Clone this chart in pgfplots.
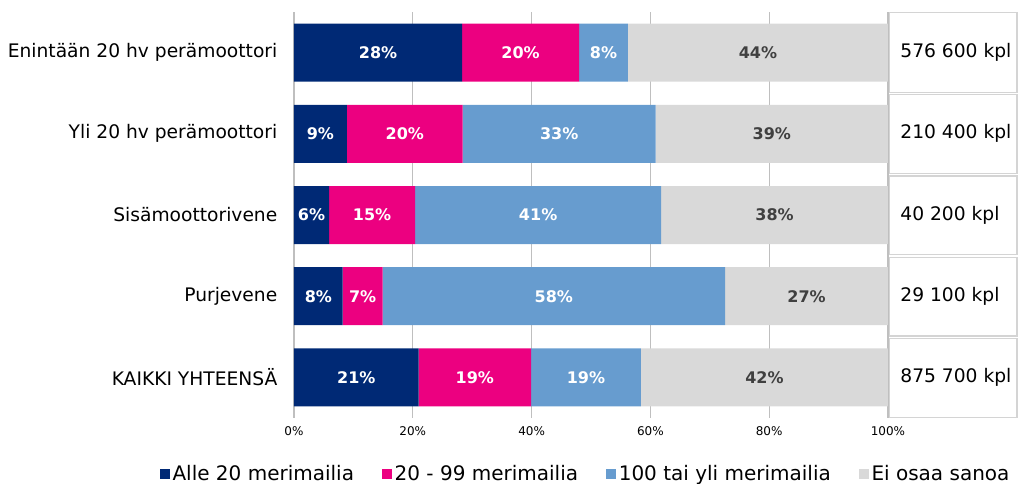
\documentclass[border=0pt]{standalone}
\usepackage{pgfplots}
\pgfplotsset{compat=1.18}
\usepackage{pgfplotstable}
\usepackage{fontspec}
\setmainfont{DejaVu Sans}
\definecolor{cNavy}{RGB}{0,41,117}
\definecolor{cPink}{RGB}{236,0,128}
\definecolor{cBlue}{RGB}{103,156,207}
\definecolor{cGray}{RGB}{217,217,217}
\definecolor{cGrid}{RGB}{191,191,191}
\definecolor{cBox}{RGB}{212,212,212}
\definecolor{cLab}{RGB}{64,64,64}

\pgfplotstableread{
y a b c d
0 28.3 19.7 8.2 43.8
1 8.9 19.5 32.5 39.1
2 5.9 14.5 41.4 38.2
3 8.2 6.7 57.7 27.4
4 21.0 18.9 18.5 41.6
}\shares

\pgfplotstableread{
cx y lab
14.15 0 28
38.15 0 20
52.1 0 8
4.45 1 9
18.65 1 20
44.65 1 33
2.95 2 6
13.15 2 15
41.1 2 41
4.1 3 8
11.55 3 7
43.75 3 58
10.5 4 21
30.45 4 19
49.15 4 19
}\labwhite

\pgfplotstableread{
cx y lab
78.1 0 44
80.45 1 39
80.9 2 38
86.3 3 27
79.2 4 42
}\labdark

\pgfplotsset{myaxis/.style={
  scale only axis, width=445.5pt, height=304.5pt,
  xmin=0, xmax=100, ymin=-0.5, ymax=4.5, y dir=reverse,
  at={(0,0)}, anchor=south west}}

\begin{document}
\begin{tikzpicture}
\begin{axis}[myaxis,
  xbar stacked, bar width=43.5pt,
  xtick={0,20,...,100},
  /pgf/number format/assume math mode=true,
  xticklabel={\pgfmathprintnumber{\tick}\%},
  xticklabel style={font=\fontsize{9}{11}\selectfont, yshift=-3pt},
  ytick={0,...,4},
  yticklabels={Enintään 20 hv perämoottori, Yli 20 hv perämoottori, Sisämoottorivene, Purjevene, KAIKKI YHTEENSÄ},
  yticklabel style={font=\fontsize{14}{16}\selectfont, xshift=-9pt},
  major tick length=0pt,
  xmajorgrids, grid style={cGrid, line width=0.9pt},
  axis line style={draw=none},
  legend columns=4,
  legend cell align=left,
  legend style={at={(0.4916,-0.138)}, anchor=center, draw=none, fill=none,
    font=\fontsize{15}{17}\selectfont,
    /tikz/every even column/.append style={column sep=19pt}},
  legend image code/.code={\fill[#1] (0pt,-3.75pt) rectangle (7.5pt,3.75pt);},
]
\addplot[fill=cNavy, draw=none] table[x=a, y=y]{\shares};
\addlegendentry{Alle 20 merimailia}
\addplot[fill=cPink, draw=none] table[x=b, y=y]{\shares};
\addlegendentry{20 - 99 merimailia}
\addplot[fill=cBlue, draw=none] table[x=c, y=y]{\shares};
\addlegendentry{100 tai yli merimailia}
\addplot[fill=cGray, draw=none] table[x=d, y=y]{\shares};
\addlegendentry{Ei osaa sanoa}
\end{axis}
\begin{axis}[myaxis, hide axis, clip=false]
\addplot[only marks, mark=none, nodes near coords={\pgfplotspointmeta\%},
  point meta=explicit symbolic,
  nodes near coords style={anchor=center, text=white, font=\bfseries\fontsize{12}{14}\selectfont}]
  table[x=cx, y=y, meta=lab]{\labwhite};
\addplot[only marks, mark=none, nodes near coords={\pgfplotspointmeta\%},
  point meta=explicit symbolic,
  nodes near coords style={anchor=center, text=cLab, font=\bfseries\fontsize{12}{14}\selectfont}]
  table[x=cx, y=y, meta=lab]{\labdark};
\draw[cBox, line width=1pt] (axis cs:100.3,-0.49) rectangle (axis cs:121.7,0.49);
\draw[cBox, line width=1pt] (axis cs:100.3,0.52) rectangle (axis cs:121.7,1.49);
\draw[cBox, line width=1pt] (axis cs:100.3,1.52) rectangle (axis cs:121.7,2.49);
\draw[cBox, line width=1pt] (axis cs:100.3,2.52) rectangle (axis cs:121.7,3.49);
\draw[cBox, line width=1pt] (axis cs:100.3,3.52) rectangle (axis cs:121.7,4.49);
\node[anchor=west, font=\fontsize{14}{16}\selectfont] at (axis cs:101.3,0) {576 600 kpl};
\node[anchor=west, font=\fontsize{14}{16}\selectfont] at (axis cs:101.3,1) {210 400 kpl};
\node[anchor=west, font=\fontsize{14}{16}\selectfont] at (axis cs:101.3,2) {40 200 kpl};
\node[anchor=west, font=\fontsize{14}{16}\selectfont] at (axis cs:101.3,3) {29 100 kpl};
\node[anchor=west, font=\fontsize{14}{16}\selectfont] at (axis cs:101.3,4) {875 700 kpl};
\end{axis}
\pgfresetboundingbox
\path[use as bounding box] (-220.5pt,-49.5pt) rectangle (543pt,313.5pt);
\end{tikzpicture}
\end{document}
